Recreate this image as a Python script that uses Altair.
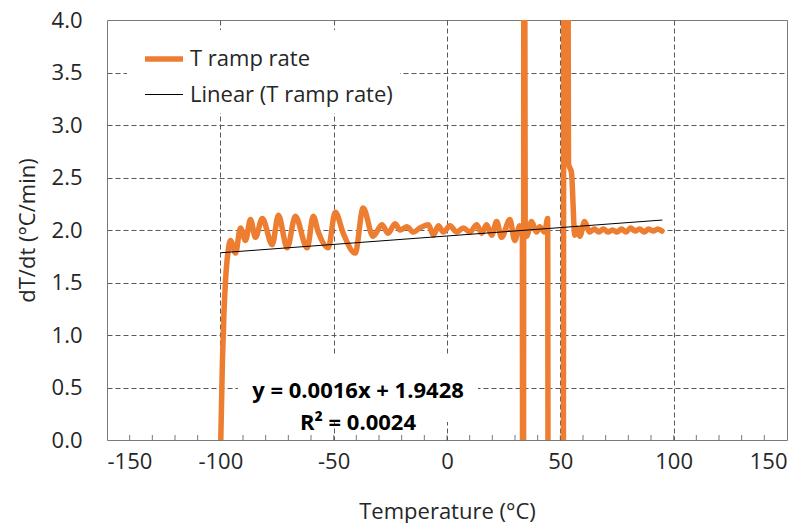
import altair as alt
import pandas as pd

# ---------------- data ----------------
temp = [-99.8, -99.1, -98.4, -97.7, -96.5, -95.5, -93.3, -91.1, -88.9, -86.7,
        -84.5, -81.5, -77.1, -74.4, -70.5, -66.9, -61.7, -59.0, -56.8, -52.4,
        -49.3, -45.8, -40.5, -37.0, -32.6, -28.7, -26.0, -22.9, -20.7, -17.7,
        -14.8, -11.9, -8.2, -6.0, -3.8, -1.6, 1.3, 4.3, 7.2, 10.1,
        13.1, 15.3, 17.5, 19.7, 21.9, 24.1, 27.7, 29.9, 32.1, 33.2,
        33.6, 34.0, 34.5, 35.1, 37.3, 39.5, 40.9, 43.1, 44.4, 44.9,
        51.0, 51.8, 52.8, 53.6, 54.9, 56.4, 57.3, 58.6, 60.7, 62.9,
        65.0, 67.0, 69.0, 71.0, 73.0, 75.0, 77.0, 79.0, 81.0, 83.0,
        85.0, 87.0, 89.0, 91.0, 93.0, 94.8]
rate = [0.00, 0.73, 1.21, 1.52, 1.81, 1.90, 1.78, 2.02, 1.90, 2.10,
        1.93, 2.11, 1.86, 2.14, 1.83, 2.13, 1.83, 2.13, 1.98, 1.83,
        2.17, 1.97, 1.78, 2.21, 1.94, 2.05, 1.97, 2.06, 2.00, 2.03,
        1.98, 2.02, 2.05, 1.95, 2.04, 1.98, 2.04, 1.98, 2.02, 1.98,
        2.05, 1.97, 2.05, 1.95, 2.08, 1.93, 2.10, 1.90, 2.04, 2.00,
        -8.0, 9.0, 1.95, 1.94, 2.08, 1.98, 2.03, 1.98, 2.11, -8.0,
        -8.0, 10.0, 10.0, 2.63, 2.55, 1.95, 2.02, 1.94, 2.08, 1.98,
        2.01, 1.98, 2.01, 1.98, 2.00, 1.98, 2.01, 1.98, 2.02, 1.99,
        2.01, 1.98, 2.01, 1.99, 2.01, 1.99]

trend_temp = [-100, 95]
trend_rate = [1.7828, 2.0948]

x_ticks = [-150, -100, -50, 0, 50, 100, 150]
y_ticks = [0.0, 0.5, 1.0, 1.5, 2.0, 2.5, 3.0, 3.5, 4.0]
minor_ticks = list(range(-140, 150, 10))
series_names = ["T ramp rate", "Linear (T ramp rate)"]
eq_lines = ["y = 0.0016x + 1.9428", "R² = 0.0024"]

# ---------------- styling ----------------
W, H = 680, 420
FONT = "Open Sans"
TXT = "#262626"
GRID = "#595959"
ORANGE = "#ED7D31"

df = pd.DataFrame({"temp": temp, "rate": rate, "series": series_names[0]})
tr = pd.DataFrame({"temp": trend_temp, "rate": trend_rate, "series": series_names[1]})
mt = pd.DataFrame({"temp": minor_ticks})
one = pd.DataFrame({"a": [0]})

color_scale = alt.Scale(domain=series_names, range=[ORANGE, "#000000"])
width_scale = alt.Scale(domain=series_names, range=[5.5, 1])

legend = alt.Legend(
    title=None, orient="none", legendX=20, legendY=10,
    fillColor="white", padding=7, symbolType="stroke", symbolSize=1444,
    symbolOffset=8, labelOffset=4, rowPadding=5,
    labelFont=FONT, labelFontSize=22, labelColor=TXT, labelLimit=400,
)

x_scale = alt.Scale(domain=[-150, 150], nice=False, zero=False)
y_scale = alt.Scale(domain=[0, 4], nice=False, zero=False)

x_axis = alt.Axis(
    values=x_ticks, labelExpr="datum.value + ''", grid=True,
    gridDash=[5, 3], gridColor=GRID,
    gridOpacity={"condition": {"test": "datum.value <= -150 || datum.value >= 150", "value": 0}, "value": 1},
    ticks=False, domain=False, labelPadding=11,
    labelFont=FONT, labelFontSize=22, labelColor=TXT,
    title="Temperature (°C)", titleFont=FONT, titleFontSize=22, titleFontWeight="normal",
    titleColor=TXT, titleBaseline="alphabetic", titleY=78,
)
y_axis = alt.Axis(
    values=y_ticks, format=".1f", grid=True,
    gridDash=[5, 3], gridColor=GRID,
    gridOpacity={"condition": {"test": "datum.value <= 0 || datum.value >= 4", "value": 0}, "value": 1},
    ticks=False, domain=False, labelPadding=25,
    labelFont=FONT, labelFontSize=22, labelColor=TXT,
    title="dT/dt (°C/min)", titleFont=FONT, titleFontSize=22, titleFontWeight="normal",
    titleColor=TXT, titleX=-80, titleY=H / 2, titleAngle=-90, titleBaseline="middle",
    titleAlign="center",
)

curve = alt.Chart(df).mark_line(clip=True, interpolate="monotone", strokeCap="round", strokeJoin="round").encode(
    x=alt.X("temp:Q", scale=x_scale, axis=x_axis),
    y=alt.Y("rate:Q", scale=y_scale, axis=y_axis),
    color=alt.Color("series:N", scale=color_scale, legend=legend),
    strokeWidth=alt.StrokeWidth("series:N", scale=width_scale, legend=legend),
)

trend = alt.Chart(tr).mark_line(clip=True).encode(
    x=alt.X("temp:Q", scale=x_scale),
    y=alt.Y("rate:Q", scale=y_scale),
    color=alt.Color("series:N", scale=color_scale, legend=legend),
    strokeWidth=alt.StrokeWidth("series:N", scale=width_scale, legend=legend),
)

ticks = alt.Chart(mt).mark_tick(size=5, thickness=1, color="#404040").encode(
    x=alt.X("temp:Q", scale=x_scale),
    y=alt.value(H - 2.5),
)

eq_box = alt.Chart(one).mark_rect(fill="white").encode(
    x=alt.value(131), x2=alt.value(371), y=alt.value(336), y2=alt.value(402),
)
eq_text = alt.Chart(one).mark_text(
    font=FONT, fontSize=22, fontWeight="bold", color="#000000",
    align="center", baseline="middle", lineHeight=32,
).encode(
    x=alt.value(251), y=alt.value(371), text=alt.value(eq_lines),
)

chart = alt.layer(ticks, curve, trend, eq_box, eq_text).properties(
    width=W, height=H,
    padding={"left": 107, "top": 20, "right": 23, "bottom": 83},
    autosize=alt.AutoSizeParams(type="none"),
    background="white",
).configure_view(stroke="#7a7a7a", strokeWidth=1)

chart.save("out.html", embed_options={"renderer": "svg", "actions": False})
